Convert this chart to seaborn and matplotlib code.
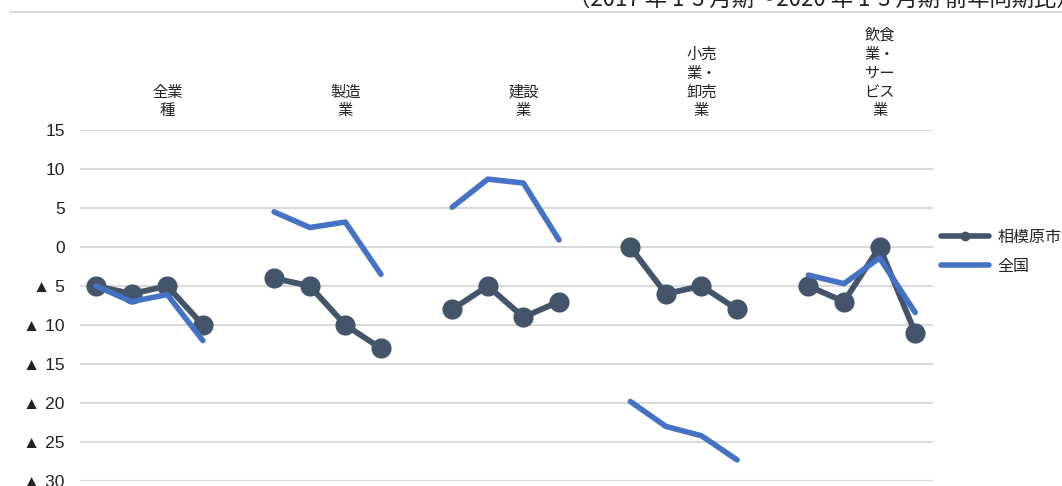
import numpy as np
import pandas as pd
import seaborn as sns
import matplotlib.pyplot as plt
from matplotlib.lines import Line2D

# data (4 quarters per industry)
categories = ['全業\n種', '製造\n業', '建設\n業', '小売\n業・\n卸売\n業', '飲食\n業・\nサー\nビス\n業']
sagamihara = [[-5, -6, -5, -10],
              [-4, -5, -10, -13],
              [-8, -5, -9, -7],
              [0, -6, -5, -8],
              [-5, -7, 0, -11]]
national = [[-5, -7, -6.1, -12],
            [4.5, 2.5, 3.2, -3.5],
            [5.1, 8.7, 8.2, 0.9],
            [-19.8, -23, -24.2, -27.3],
            [-3.6, -4.7, -1.4, -8.4]]
series_names = ['相模原市', '全国']
yticks = [15, 10, 5, 0, -5, -10, -15, -20, -25, -30]
ytick_labels = ['15', '10', '5', '0', '▲ 5', '▲ 10', '▲ 15', '▲ 20', '▲ 25', '▲ 30']
note = '（2017 年 1-3 月期～2020 年 1-3 月期 前年同期比）'

rows = []
for g in range(len(categories)):
    for k in range(4):
        rows.append({'group': g, 'x': 5 * g + k, 'series': series_names[0], 'value': sagamihara[g][k]})
        rows.append({'group': g, 'x': 5 * g + k, 'series': series_names[1], 'value': national[g][k]})
df = pd.DataFrame(rows)

sns.set_style('white')
plt.rcParams['font.family'] = ['Noto Sans CJK JP', 'DejaVu Sans']

dark = '#44546A'
blue = '#4472C4'

fig = plt.figure(figsize=(10.62, 4.86), dpi=100)
ax = fig.add_axes([80 / 1062, 1 - 481 / 486, (933 - 80) / 1062, (481 - 130) / 486])

for g in range(len(categories)):
    d = df[(df.group == g) & (df.series == '相模原市')]
    sns.lineplot(data=d, x='x', y='value', ax=ax, color=dark, lw=4.2, marker='o',
                 markersize=14.5, markeredgewidth=0, zorder=3)
for g in range(len(categories)):
    d = df[(df.group == g) & (df.series == '全国')]
    sns.lineplot(data=d, x='x', y='value', ax=ax, color=blue, lw=4, zorder=4,
                 solid_capstyle='round')

ax.set_xlim(-0.45, 23.5)
ax.set_ylim(-30, 15)
ax.set_yticks(yticks)
ax.set_yticklabels(ytick_labels, fontsize=12.5, color='#222222',
                   family=['Liberation Sans', 'DejaVu Sans'])
ax.set_xticks([])
ax.set_xlabel('')
ax.set_ylabel('')
ax.grid(axis='y', color='#D9D9D9', lw=1.5)
ax.tick_params(axis='y', length=0, pad=11)
for s in ax.spines.values():
    s.set_visible(False)

for g, c in enumerate(categories):
    ax.text(5 * g + 2, 1.03, c, transform=ax.get_xaxis_transform(), ha='center',
            va='bottom', fontsize=11, color='#222222', linespacing=1.15)

handles = [Line2D([0], [0], color=dark, lw=4, marker='o', markersize=6),
           Line2D([0], [0], color=blue, lw=4)]
fig.legend(handles, series_names, loc='center left', bbox_to_anchor=(935 / 1062, 1 - 252 / 486),
           frameon=False, fontsize=11.5, handlelength=3.0, labelspacing=0.75, handletextpad=0.5,
           borderaxespad=0)

# cut-off subtitle and separator at the very top
fig.add_artist(Line2D([10 / 1062, 1], [1 - 12.5 / 486] * 2, color='#D9D9D9', lw=1.5))
fig.text(568 / 1062, 1 - 6 / 486, note, ha='left', va='baseline', fontsize=16, color='#222222')

fig.savefig('out.png', dpi=100)
